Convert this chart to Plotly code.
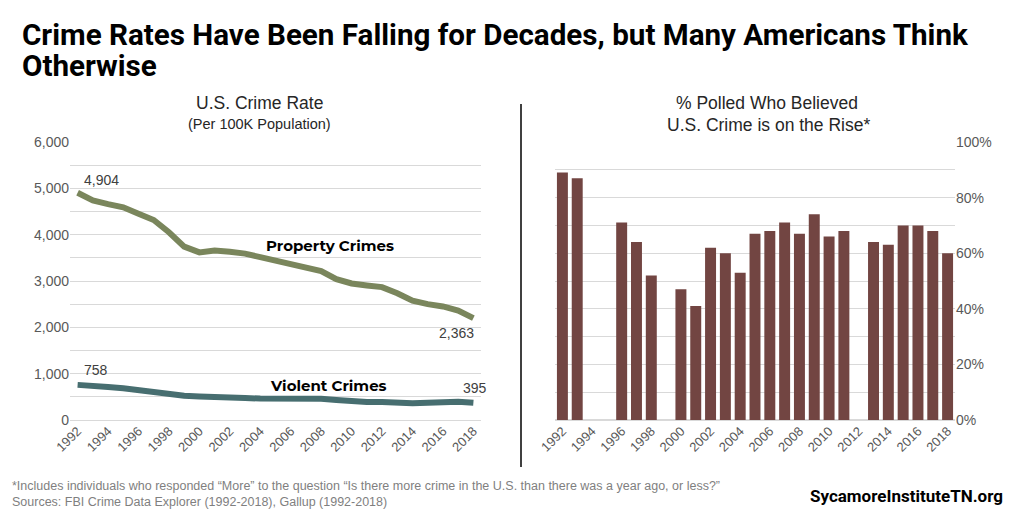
import plotly.graph_objects as go

years = list(range(1992, 2019))
property_rate = [4904, 4740, 4660, 4591, 4451, 4316, 4052, 3743, 3618, 3658, 3631, 3591, 3514,
                 3432, 3346, 3276, 3215, 3041, 2946, 2905, 2868, 2734, 2574, 2500, 2451, 2363, 2200]
violent_rate = [758, 747, 714, 685, 637, 611, 568, 523, 507, 505, 494, 476, 463,
                469, 479, 472, 459, 432, 404, 387, 387, 369, 362, 373, 398, 395, 370]

poll_years = [1992, 1993, 1996, 1997, 1998, 2000, 2001, 2002, 2003, 2004, 2005, 2006, 2007,
              2008, 2009, 2010, 2011, 2013, 2014, 2015, 2016, 2017, 2018]
poll_pct = [0.89, 0.87, 0.71, 0.64, 0.52, 0.47, 0.41, 0.62, 0.60, 0.53, 0.67, 0.68, 0.71,
            0.67, 0.74, 0.66, 0.68, 0.64, 0.63, 0.70, 0.70, 0.68, 0.60]

tick_years = list(range(1992, 2019, 2))

PROP_COLOR = "#7a865c"
VIOL_COLOR = "#476e70"
BAR_COLOR = "#724542"
GRID = "#d9d9d9"
TICK = "#595959"

fig = go.Figure()
fig.add_trace(go.Scatter(x=years, y=property_rate, mode="lines",
                         line=dict(color=PROP_COLOR, width=6), xaxis="x", yaxis="y",
                         hoverinfo="skip", showlegend=False))
fig.add_trace(go.Scatter(x=years, y=violent_rate, mode="lines",
                         line=dict(color=VIOL_COLOR, width=6), xaxis="x", yaxis="y",
                         hoverinfo="skip", showlegend=False))
fig.add_trace(go.Bar(x=poll_years, y=poll_pct, marker=dict(color=BAR_COLOR, line=dict(width=0)),
                     xaxis="x2", yaxis="y2", showlegend=False))

tickfont = dict(family="Liberation Sans, Arial", size=14, color=TICK)
xtickfont = dict(family="Liberation Sans, Arial", size=13, color=TICK)

ydom = [(512 - 420) / 512, (512 - 142) / 512]

fig.update_layout(
    width=1024, height=512,
    margin=dict(l=0, r=0, t=0, b=0),
    paper_bgcolor="white", plot_bgcolor="white",
    bargap=0.26,
    xaxis=dict(domain=[70 / 1024, 481 / 1024], range=[1991.5, 2018.5], tickvals=tick_years,
               tickangle=-45, tickfont=xtickfont, showgrid=False, zeroline=False,
               showline=False, ticks="", automargin=False),
    yaxis=dict(domain=ydom, range=[0, 6000], tickvals=[0, 1000, 2000, 3000, 4000, 5000, 6000],
               tickformat=",", tickfont=tickfont, showgrid=True, gridcolor=GRID, gridwidth=1,
               zeroline=True, zerolinecolor=GRID, zerolinewidth=1, showline=False, ticks="",
               automargin=False,
               minor=dict(dtick=500, showgrid=True, gridcolor=GRID, gridwidth=1)),
    xaxis2=dict(domain=[555 / 1024, 955 / 1024], range=[1991.5, 2018.5], tickvals=tick_years,
                tickangle=-45, tickfont=xtickfont, showgrid=False, zeroline=False,
                showline=False, ticks="", anchor="y2", automargin=False),
    yaxis2=dict(domain=ydom, range=[0, 1], tickvals=[0, 0.2, 0.4, 0.6, 0.8, 1.0],
                tickformat=".0%", tickfont=tickfont, side="right", anchor="x2",
                showgrid=True, gridcolor=GRID, gridwidth=1, zeroline=True, zerolinecolor=GRID,
                showline=False, ticks="", automargin=False,
                minor=dict(dtick=0.1, showgrid=True, gridcolor=GRID, gridwidth=1)),
)

fig.add_shape(type="line", xref="paper", yref="paper", x0=521 / 1024, x1=521 / 1024,
              y0=(512 - 467) / 512, y1=(512 - 104) / 512, line=dict(color="black", width=1.5))

ann = []
title_font = dict(family="Roboto", size=29.6, color="black")
ann.append(dict(text="<b>Crime Rates Have Been Falling for Decades, but Many Americans Think</b>",
                x=20 / 1024, y=1 - 35 / 512, xref="paper", yref="paper", xanchor="left",
                yanchor="middle", align="left", showarrow=False, font=title_font))
ann.append(dict(text="<b>Otherwise</b>",
                x=20 / 1024, y=1 - 66 / 512, xref="paper", yref="paper", xanchor="left",
                yanchor="middle", align="left", showarrow=False, font=title_font))
sub_font = dict(family="Liberation Sans, Arial", size=17.5, color="#262626")
sub2_font = dict(family="Liberation Sans, Arial", size=14.5, color="#262626")
ann.append(dict(text="U.S. Crime Rate", x=259 / 1024, y=1 - 103 / 512, xref="paper", yref="paper",
                xanchor="center", yanchor="middle", showarrow=False, font=sub_font))
ann.append(dict(text="(Per 100K Population)", x=259 / 1024, y=1 - 124 / 512, xref="paper", yref="paper",
                xanchor="center", yanchor="middle", showarrow=False, font=sub2_font))
ann.append(dict(text="% Polled Who Believed", x=767 / 1024, y=1 - 103 / 512, xref="paper", yref="paper",
                xanchor="center", yanchor="middle", showarrow=False, font=sub_font))
ann.append(dict(text="U.S. Crime is on the Rise*", x=768 / 1024, y=1 - 125 / 512, xref="paper",
                yref="paper", xanchor="center", yanchor="middle", showarrow=False, font=sub_font))

lab_font = dict(family="Liberation Sans, Arial", size=14, color="#404040")
ann.append(dict(text=f"{property_rate[0]:,}", x=years[0], y=property_rate[0], xref="x", yref="y",
                xanchor="left", yanchor="bottom", xshift=4, yshift=3, showarrow=False, font=lab_font))
ann.append(dict(text=f"{violent_rate[0]:,}", x=years[0], y=violent_rate[0], xref="x", yref="y",
                xanchor="left", yanchor="bottom", xshift=4, yshift=5, showarrow=False, font=lab_font))
ann.append(dict(text="2,363", x=years[-1], y=property_rate[-1], xref="x", yref="y",
                xanchor="right", yanchor="top", xshift=3, yshift=-5, showarrow=False, font=lab_font))
ann.append(dict(text="395", x=years[-1], y=violent_rate[-1], xref="x", yref="y",
                xanchor="center", yanchor="bottom", xshift=2, yshift=5, showarrow=False, font=lab_font))

ser_font = dict(family="Montserrat, Roboto", size=15, color="black")
ann.append(dict(text="<b>Property Crimes</b>", x=2008.6, y=3756, xref="x", yref="y",
                xanchor="center", yanchor="middle", showarrow=False, font=ser_font))
ann.append(dict(text="<b>Violent Crimes</b>", x=2008.5, y=745, xref="x", yref="y",
                xanchor="center", yanchor="middle", showarrow=False, font=ser_font))

foot_font = dict(family="Liberation Sans Narrow, Arial Narrow, Liberation Sans", size=12.5, color="#7f7f7f")
ann.append(dict(text="*Includes individuals who responded \u201cMore\u201d to the question \u201cIs there more crime in the U.S. than there was a year ago, or less?\u201d<br>Sources: FBI Crime Data Explorer (1992-2018), Gallup (1992-2018)",
                x=10 / 1024, y=1 - 477 / 512, xref="paper", yref="paper", xanchor="left", yanchor="top",
                align="left", showarrow=False, font=foot_font))
ann.append(dict(text="<b>SycamoreInstituteTN.org</b>", x=1005 / 1024, y=1 - 496 / 512, xref="paper",
                yref="paper", xanchor="right", yanchor="middle", showarrow=False,
                font=dict(family="Roboto", size=17, color="black")))

fig.update_layout(annotations=ann)
fig.write_html("out.html", config={"displayModeBar": False},
               post_script="document.body.style.margin='0';document.body.style.overflow='hidden';")
